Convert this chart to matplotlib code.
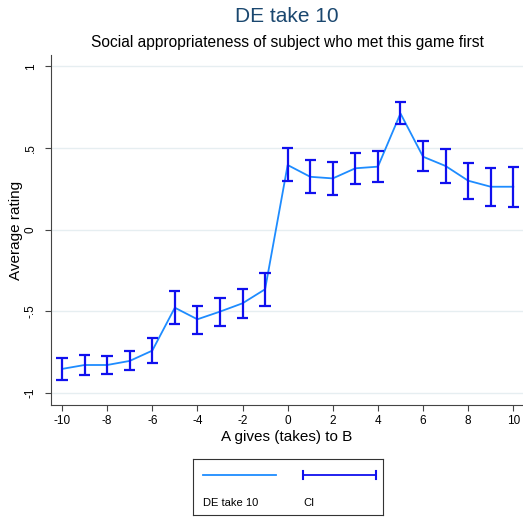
import numpy as np
import matplotlib.pyplot as plt

plt.rcParams['font.family'] = ['Liberation Sans', 'DejaVu Sans']
plt.rcParams['axes.unicode_minus'] = False

x = np.arange(-10, 11)
mean = [-0.854, -0.830, -0.830, -0.805, -0.742, -0.479, -0.550, -0.503, -0.452, -0.366,
        0.395, 0.323, 0.313, 0.375, 0.385, 0.711, 0.446, 0.389, 0.299, 0.262, 0.262]
ci_hi = [-0.789, -0.767, -0.775, -0.744, -0.664, -0.378, -0.468, -0.419, -0.364, -0.266,
         0.500, 0.426, 0.411, 0.467, 0.483, 0.781, 0.542, 0.491, 0.407, 0.379, 0.385]
ci_lo = [-0.922, -0.893, -0.885, -0.862, -0.819, -0.579, -0.640, -0.591, -0.544, -0.467,
         0.297, 0.222, 0.211, 0.279, 0.289, 0.646, 0.358, 0.283, 0.189, 0.146, 0.138]

line_col = "#1e8cff"
ci_col = "#1010ee"

fig = plt.figure(figsize=(5.23, 5.17), dpi=100)
ax = fig.add_axes([50.5/523, 1 - 405/517, (523 - 50.5)/523, (405 - 55)/517])

ax.plot(x, mean, color=line_col, lw=1.3, zorder=3)
ax.vlines(x, ci_lo, ci_hi, color=ci_col, lw=1.6, zorder=4)
ax.hlines(ci_lo, x - 0.25, x + 0.25, color=ci_col, lw=1.6, zorder=4)
ax.hlines(ci_hi, x - 0.25, x + 0.25, color=ci_col, lw=1.6, zorder=4)

ax.set_xlim(-10.51, 10.43)
ax.set_ylim(-1.075, 1.069)
ax.set_xticks(np.arange(-10, 11, 2))
ax.set_yticks([-1, -0.5, 0, 0.5, 1])
ax.set_yticklabels(["-1", "-.5", "0", ".5", "1"], rotation=90, va="center")
ax.tick_params(labelsize=8.5, length=4, width=0.8, color="#444444")
ax.tick_params(axis="y", pad=6)
ax.grid(axis="y", color="#e6eef1", lw=1)
ax.set_axisbelow(True)
for s in ["top", "right"]:
    ax.spines[s].set_visible(False)
for s in ["left", "bottom"]:
    ax.spines[s].set_color("#444444")
ax.set_xlabel("A gives (takes) to B", fontsize=11, labelpad=2)
ax.set_ylabel("Average rating", fontsize=11, labelpad=1)

cx = 287 / 523
fig.text(cx, 1 - 16/517, "DE take 10", ha="center", va="center", fontsize=15, color="#1a476f")
fig.text(cx, 1 - 42/517, "Social appropriateness of subject who met this game first",
         ha="center", va="center", fontsize=11.2)

# legend box
lg = fig.add_axes([193/523, 1 - 515/517, 190/523, 56/517])
lg.set_xlim(0, 190)
lg.set_ylim(56, 0)
lg.set_xticks([])
lg.set_yticks([])
for s in lg.spines.values():
    s.set_color("#333333")
    s.set_linewidth(0.8)
lg.plot([10, 83], [16, 16], color=line_col, lw=1.3)
lg.plot([110, 183], [16, 16], color=ci_col, lw=1.3)
lg.plot([110, 110], [12, 20], color=ci_col, lw=1.5)
lg.plot([183, 183], [12, 20], color=ci_col, lw=1.5)
lg.text(10, 44, "DE take 10", fontsize=8, va="center")
lg.text(110, 44, "CI", fontsize=8, va="center")

fig.savefig("out.png", dpi=100)
